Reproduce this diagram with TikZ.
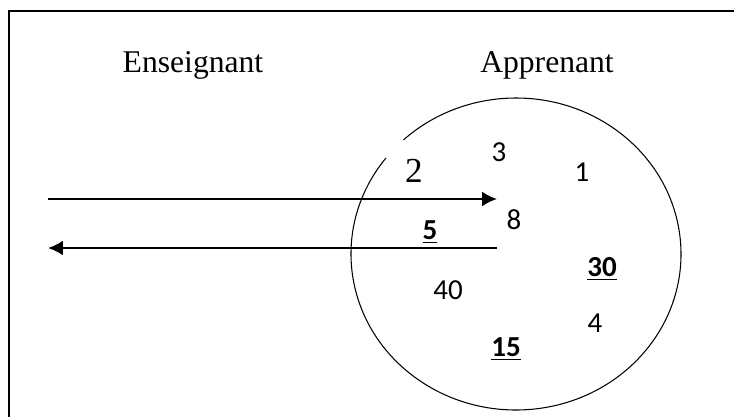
\documentclass[tikz,border=0pt]{standalone}
\usepackage{fontspec}
\setmainfont{Liberation Serif}
\newfontfamily\calib{Carlito}
\usetikzlibrary{arrows.meta}

\begin{document}
\begin{tikzpicture}[>={Latex[length=0.3cm,width=0.3cm]}, x=0.02cm, y=0.02cm,
    title/.style={font=\fontsize{18}{21}\selectfont, inner sep=0pt},
    num/.style={font=\calib\fontsize{16.5}{19}\selectfont, inner sep=0pt},
    flow/.style={->, line width=1.2pt}]
  \useasboundingbox (0,0) rectangle (734,417);
  % --- Frame (only left and top edges show) ---
  \draw[line width=1.1pt] (9,0) -- (9,406) -- (734,406);
  % --- Titles ---
  \node[title] (teacher) at (193,352) {Enseignant};
  \node[title] (learner) at (547,352) {Apprenant};
  % --- Learner: ellipse, open at upper left ---
  \draw[line width=0.6pt] (516,163) ++(142:165 and 156)
    arc[start angle=142, end angle=493, x radius=165, y radius=156];
  % --- Numbers inside ---
  \node[num] (n3) at (499,265) {3};
  \node[title, font=\fontsize{20}{23}\selectfont] (n2) at (414,246) {2};
  \node[num] (n1) at (582,245) {1};
  \node[num] (n8) at (514,197) {8};
  \node[num] (n5) at (430,185) {\underline{\textbf{5}}};
  \node[num] (n30) at (602,148) {\underline{\textbf{30}}};
  \node[num] (n40) at (448,127) {40};
  \node[num] (n4) at (595,94) {4};
  \node[num] (n15) at (506,68) {\underline{\textbf{15}}};
  % --- Arrows: in and out ---
  \coordinate (inA) at (48,218);
  \coordinate (inB) at (497,218);
  \coordinate (outA) at (497,169);
  \coordinate (outB) at (48,169);
  \draw[flow] (inA) -- (inB);
  \draw[flow] (outA) -- (outB);
\end{tikzpicture}
\end{document}
